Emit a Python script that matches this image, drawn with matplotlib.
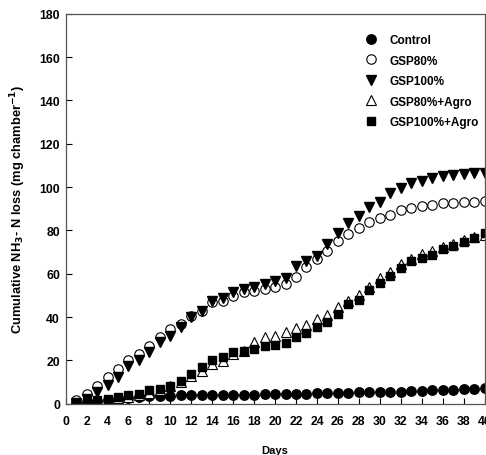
import matplotlib
matplotlib.use("Agg")
import matplotlib.pyplot as plt

days = list(range(1, 41))
control = [0.5, 0.8, 1.2, 1.8, 2.2, 2.8, 3.2, 3.4, 3.6, 3.7, 3.8, 3.9, 4.0, 4.0, 4.1, 4.1, 4.2, 4.2, 4.3, 4.4,
           4.5, 4.6, 4.7, 4.8, 4.9, 5.0, 5.1, 5.2, 5.3, 5.4, 5.5, 5.6, 5.7, 5.9, 6.1, 6.3, 6.5, 6.7, 6.9, 7.1]
gsp80 = [1.5, 4.6, 8.0, 12.3, 16.1, 20.4, 23.0, 26.5, 30.7, 34.5, 36.8, 40.6, 42.9, 46.8, 47.2, 49.8, 51.4, 52.1, 52.9, 53.7,
         55.2, 58.3, 62.9, 66.7, 70.5, 75.1, 78.5, 81.0, 84.0, 85.7, 87.2, 89.2, 90.3, 91.4, 91.8, 92.6, 92.8, 93.0, 93.2, 93.5]
gsp100 = [0.3, 2.0, 5.5, 8.5, 12.3, 17.6, 20.0, 23.8, 28.4, 31.4, 35.3, 39.9, 43.0, 47.2, 48.7, 51.4, 52.9, 53.7, 55.2, 56.7,
          58.2, 63.6, 65.9, 68.2, 73.6, 79.0, 83.5, 86.5, 90.6, 93.3, 97.5, 99.5, 101.8, 103.0, 104.0, 105.0, 105.5, 106.0, 106.3, 106.7]
gsp80_agro = [0.0, 0.5, 1.0, 1.8, 2.5, 3.3, 4.0, 5.0, 6.5, 8.0, 10.0, 12.6, 15.0, 18.5, 19.5, 23.0, 24.5, 28.4, 30.7, 31.4,
              33.3, 35.0, 36.3, 39.0, 41.0, 44.5, 47.5, 50.0, 54.0, 58.0, 61.0, 64.5, 67.0, 69.0, 70.5, 72.5, 73.5, 75.5, 77.0, 78.0]
gsp100_agro = [0.0, 0.8, 1.5, 2.3, 3.0, 3.8, 4.6, 6.2, 6.9, 8.4, 10.4, 13.8, 16.9, 20.0, 21.5, 23.8, 24.5, 25.3, 26.8, 27.3,
               28.0, 30.7, 32.5, 35.3, 37.9, 41.4, 45.8, 48.1, 52.3, 55.8, 58.9, 62.7, 65.8, 67.3, 68.8, 71.4, 72.6, 74.5, 76.5, 78.8]
labels = ["Control", "GSP80%", "GSP100%", "GSP80%+Agro", "GSP100%+Agro"]
x_ticks = list(range(0, 41, 2))
y_ticks = list(range(0, 181, 20))

plt.rcParams['font.family'] = ['Liberation Sans', 'DejaVu Sans']
plt.rcParams['font.weight'] = 'bold'

fig = plt.figure(figsize=(4.86, 4.56), dpi=100)
ax = fig.add_axes([0.135, 0.1125, 0.862, 0.855])

ms = 6.8
ax.plot(days, control, linestyle='none', marker='o', ms=ms, mfc='black', mec='black', label=labels[0])
ax.plot(days, gsp80, linestyle='none', marker='o', ms=ms, mfc='white', mec='black', mew=0.8, label=labels[1])
ax.plot(days, gsp100, linestyle='none', marker='v', ms=ms, mfc='black', mec='black', label=labels[2])
ax.plot(days, gsp80_agro, linestyle='none', marker='^', ms=ms, mfc='white', mec='black', mew=0.8, label=labels[3])
ax.plot(days, gsp100_agro, linestyle='none', marker='s', ms=ms - 0.6, mfc='black', mec='black', label=labels[4])

ax.set_xlim(0, 40)
ax.set_ylim(0, 180)
ax.set_xticks(x_ticks)
ax.set_yticks(y_ticks)
ax.tick_params(direction='in', length=4, width=0.8, labelsize=8.8, pad=4)
ax.tick_params(axis='x', pad=8)
for lab in ax.get_xticklabels() + ax.get_yticklabels():
    lab.set_fontweight('bold')
for s in ax.spines.values():
    s.set_color('#555555')
    s.set_linewidth(0.9)

ax.set_xlabel("Days", fontsize=8, fontweight='bold', labelpad=13)
ax.set_ylabel("Cumulative NH$_{\\mathbf{3}}$- N loss (mg chamber$^{\\mathbf{-1}}$)", fontsize=9.3, fontweight='bold', labelpad=8)

leg = ax.legend(loc='upper left', bbox_to_anchor=(0.712, 0.948), frameon=False, fontsize=8.5,
                handletextpad=1.0, labelspacing=0.72, borderaxespad=0, handlelength=1.2, borderpad=0)
for t in leg.get_texts():
    t.set_fontweight('bold')

fig.savefig("out.png", dpi=100)
